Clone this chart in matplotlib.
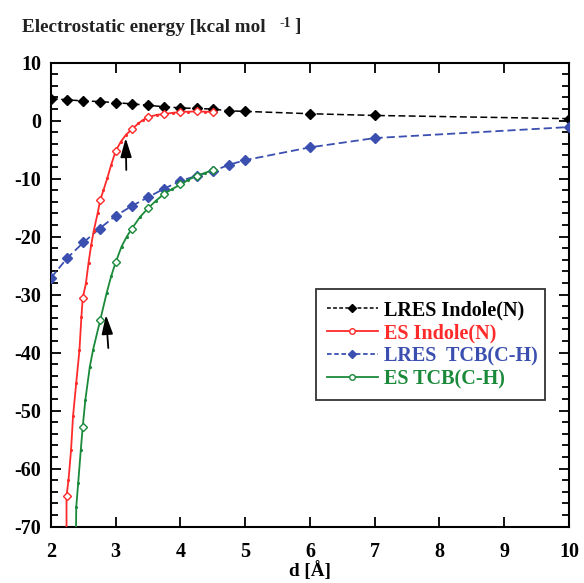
import matplotlib
matplotlib.use("Agg")
import matplotlib.pyplot as plt
from matplotlib.lines import Line2D
from matplotlib.ticker import MultipleLocator

plt.rcParams['font.family'] = ['Liberation Serif', 'DejaVu Serif']
plt.rcParams['font.weight'] = 'bold'
plt.rcParams['axes.unicode_minus'] = False

# LRES Indole(N)
lres_ind_x = [2.0, 2.25, 2.5, 2.75, 3.0, 3.25, 3.5, 3.75, 4.0, 4.25, 4.5, 4.75, 5.0, 6.0, 7.0, 10.0]
lres_ind_y = [3.8, 3.6, 3.4, 3.3, 3.1, 2.9, 2.65, 2.4, 2.2, 2.1, 2.0, 1.7, 1.6, 1.2, 0.9, 0.35]

# LRES TCB(C-H)
lres_tcb_x = [2.0, 2.25, 2.5, 2.75, 3.0, 3.25, 3.5, 3.75, 4.0, 4.25, 4.5, 4.75, 5.0, 6.0, 7.0, 10.0]
lres_tcb_y = [-27.1, -23.7, -21.0, -18.6, -16.4, -14.7, -13.2, -11.7, -10.4, -9.5, -8.7, -7.6, -6.8, -4.6, -3.0, -1.1]

# ES Indole(N): dense curve and marked points
es_ind_x = [2.24, 2.24, 2.27, 2.31, 2.34, 2.39, 2.44, 2.47, 2.49, 2.54, 2.58, 2.62, 2.66, 2.72, 2.76,
            2.81, 2.87, 2.93, 3.0, 3.08, 3.16, 3.25, 3.35, 3.42, 3.5, 3.63, 3.75, 3.88, 4.0, 4.12,
            4.25, 4.38, 4.5]
es_ind_y = [-72.0, -64.7, -62.0, -56.8, -51.0, -45.2, -39.5, -33.8, -30.6, -28.0, -24.5, -21.5, -19.0,
            -16.0, -13.7, -12.0, -9.9, -7.6, -5.2, -3.6, -2.4, -1.5, -0.45, 0.1, 0.6, 1.0, 1.15, 1.35,
            1.5, 1.55, 1.6, 1.55, 1.5]
es_ind_mx = [2.24, 2.49, 2.76, 3.0, 3.25, 3.5, 3.75, 4.0, 4.25, 4.5]
es_ind_my = [-64.7, -30.6, -13.7, -5.2, -1.5, 0.6, 1.15, 1.5, 1.6, 1.5]

# ES TCB(C-H)
es_tcb_x = [2.385, 2.39, 2.42, 2.46, 2.49, 2.53, 2.6, 2.65, 2.76, 2.86, 2.93, 3.0, 3.09, 3.17, 3.25,
            3.375, 3.5, 3.62, 3.75, 3.87, 4.0, 4.12, 4.25, 4.38, 4.5]
es_tcb_y = [-72.0, -66.6, -62.5, -56.8, -52.8, -48.2, -42.4, -39.5, -34.4, -29.7, -26.8, -24.4, -21.7,
            -20.0, -18.6, -16.6, -15.1, -13.8, -12.6, -11.8, -11.0, -10.2, -9.5, -9.0, -8.5]
es_tcb_mx = [2.49, 2.76, 3.0, 3.25, 3.5, 3.75, 4.0, 4.25, 4.5]
es_tcb_my = [-52.8, -34.4, -24.4, -18.6, -15.1, -12.6, -11.0, -9.5, -8.5]

# arrows: (tail, tip)
arrows = [((3.163, -8.5), (3.154, -3.0)), ((2.885, -39.2), (2.849, -33.5))]

labels = ['LRES Indole(N)', 'ES Indole(N)', 'LRES  TCB(C-H)', 'ES TCB(C-H)']
colors = ['#000000', '#ff2a2a', '#3a4fb0', '#1a8a3a']

xticks = [2, 3, 4, 5, 6, 7, 8, 9, 10]
yticks = [10, 0, -10, -20, -30, -40, -50, -60, -70]

fig = plt.figure(figsize=(5.84, 5.83), dpi=100)
ax = fig.add_axes([0.0873, 0.0966, 0.887, 0.7959])

dash = (0, (4.5, 2.2))
ax.plot(lres_ind_x, lres_ind_y, color=colors[0], ls=dash, lw=1.1,
        marker='D', ms=5.5, mfc=colors[0], mec=colors[0], zorder=3)
ax.plot(lres_tcb_x, lres_tcb_y, color=colors[2], ls=dash, lw=1.3,
        marker='D', ms=5.5, mfc=colors[2], mec=colors[2], zorder=3)
ax.plot(es_ind_x, es_ind_y, color=colors[1], lw=1.3, marker='.', ms=2.5, zorder=4)
ax.plot(es_ind_mx, es_ind_my, ls='none', marker='D', ms=4.5, mfc='white', mec=colors[1], mew=1.0, zorder=5)
ax.plot(es_tcb_x, es_tcb_y, color=colors[3], lw=1.3, marker='.', ms=2.5, zorder=4)
ax.plot(es_tcb_mx, es_tcb_my, ls='none', marker='D', ms=4.5, mfc='white', mec=colors[3], mew=1.0, zorder=5)

for (tx, ty), (hx, hy) in arrows:
    ax.annotate('', xy=(hx, hy), xytext=(tx, ty),
                arrowprops=dict(arrowstyle='-|>,head_length=1.15,head_width=0.34', color='black',
                                lw=1.3, shrinkA=0, shrinkB=0), zorder=6)

ax.set_xlim(2, 10)
ax.set_ylim(-70, 10)
ax.set_xticks(xticks)
ax.set_yticks(yticks)
ax.yaxis.set_minor_locator(MultipleLocator(2))
ax.tick_params(which='both', direction='in', top=True, right=True, width=1.3, labelsize=14.5)
ax.tick_params(which='major', length=7.5)
ax.tick_params(axis='y', which='major', pad=7)
ax.tick_params(axis='x', which='major', pad=11)
ax.tick_params(which='minor', length=5)
ax.tick_params(axis='x', which='minor', top=False, bottom=False)
for s in ax.spines.values():
    s.set_linewidth(1.5)
for lab in ax.get_xticklabels() + ax.get_yticklabels():
    lab.set_fontweight('bold')

ax.set_xlabel('d [Å]', fontsize=13.8, fontweight='bold', labelpad=-0.5)

# title with manual superscript
title_y = 1 - 27 / 583
t1 = fig.text(22 / 584, title_y, 'Electrostatic energy [kcal mol', fontsize=13.8,
              fontweight='bold', ha='left', va='center', color='#222222')
fig.canvas.draw()
bb = t1.get_window_extent()
x_end = bb.x1 / fig.bbox.width
t2 = fig.text(x_end + 14 / 584, title_y + 3.5 / 583, '-1', fontsize=10, fontweight='bold',
              ha='left', va='center', color='#222222')
fig.canvas.draw()
bb2 = t2.get_window_extent()
fig.text(bb2.x1 / fig.bbox.width + 3 / 584, title_y, ']', fontsize=13.8, fontweight='bold',
         ha='left', va='center', color='#222222')

handles = [
    Line2D([], [], color=colors[0], ls=(0, (2.5, 1.5)), lw=1.1, marker='D', ms=4, mfc=colors[0]),
    Line2D([], [], color=colors[1], lw=1.3, marker='o', ms=4, mfc='white', mec=colors[1]),
    Line2D([], [], color=colors[2], ls=(0, (2.5, 1.5)), lw=1.3, marker='D', ms=4, mfc=colors[2]),
    Line2D([], [], color=colors[3], lw=1.3, marker='o', ms=4, mfc='white', mec=colors[3]),
]
leg = ax.legend(handles, labels, loc='upper left', bbox_to_anchor=(0.512, 0.275, 0.442, 0.237),
                mode='expand', handlelength=2.5, handletextpad=0.3,
                labelspacing=0.15, borderaxespad=0, frameon=True, fancybox=False,
                borderpad=0.55, prop={'weight': 'bold', 'size': 14.5})
leg.get_frame().set_edgecolor('black')
leg.get_frame().set_linewidth(1.3)
for t, c in zip(leg.get_texts(), colors):
    t.set_color(c)

fig.savefig('out.png', dpi=100)
